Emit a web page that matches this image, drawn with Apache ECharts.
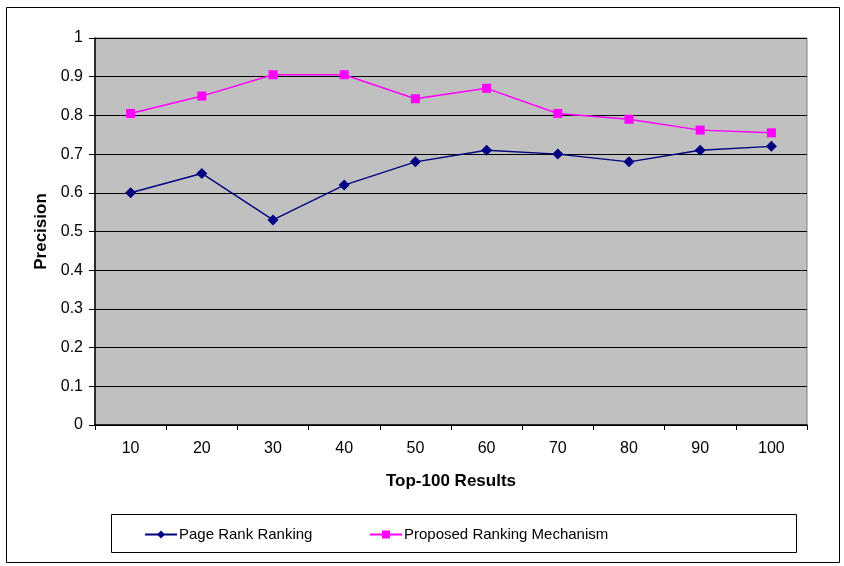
<!DOCTYPE html>
<html>
<head>
<meta charset="utf-8">
<script src="https://cdn.jsdelivr.net/npm/echarts@6/dist/echarts.min.js"></script>
<style>
html,body{margin:0;padding:0;background:#fff;}
#chart{width:844px;height:566px;}
</style>
</head>
<body>
<div id="chart"></div>
<script>
var categories = ['10','20','30','40','50','60','70','80','90','100'];
var pageRank = [0.60, 0.65, 0.53, 0.62, 0.68, 0.71, 0.70, 0.68, 0.71, 0.72];
var proposed = [0.805, 0.85, 0.905, 0.905, 0.843, 0.87, 0.805, 0.79, 0.762, 0.755];
var seriesNames = ['Page Rank Ranking', 'Proposed Ranking Mechanism'];

var chart = echarts.init(document.getElementById('chart'));
var font = 'Liberation Sans, Arial, sans-serif';
chart.setOption({
  animation: false,
  backgroundColor: '#fff',
  textStyle: {fontFamily: font},
  grid: {left: 95, top: 38, width: 712, height: 387, show: true,
         backgroundColor: '#c0c0c0', borderColor: '#808080', borderWidth: 1},
  graphic: [
    {type: 'rect', shape: {x: 6.5, y: 7.5, width: 833, height: 555}, style: {fill: 'none', stroke: '#000', lineWidth: 1}, z: -10},
    {type: 'rect', shape: {x: 111.5, y: 514.5, width: 685, height: 38}, style: {fill: '#fff', stroke: '#000', lineWidth: 1}, z: -5}
  ],
  legend: [
    {data: [seriesNames[0]], left: 144, top: 527, padding: 0, itemWidth: 32, itemHeight: 10, itemGap: 0,
     textStyle: {fontSize: 15, color: '#000', fontFamily: font, padding: [0,0,0,-3]}},
    {data: [seriesNames[1]], left: 369, top: 527, padding: 0, itemWidth: 32, itemHeight: 10, itemGap: 0,
     textStyle: {fontSize: 15, color: '#000', fontFamily: font, padding: [0,0,0,-3]}}
  ],
  xAxis: {
    type: 'category', data: categories, boundaryGap: true,
    name: 'Top-100 Results', nameLocation: 'middle', nameGap: 48,
    nameTextStyle: {fontWeight: 'bold', fontSize: 17, color: '#000', fontFamily: font},
    axisLine: {lineStyle: {color: '#000', width: 1.5}},
    axisTick: {show: true, length: 5, lineStyle: {color: '#000'}},
    axisLabel: {fontSize: 16, color: '#000', margin: 16, fontFamily: font},
    splitLine: {show: false}
  },
  yAxis: {
    type: 'value', min: 0, max: 1, interval: 0.1,
    name: 'Precision', nameLocation: 'middle', nameGap: 45, nameRotate: 90,
    nameTextStyle: {fontWeight: 'bold', fontSize: 17, color: '#000', fontFamily: font},
    axisLine: {show: true, lineStyle: {color: '#000', width: 1.5}},
    axisTick: {show: true, length: 6, lineStyle: {color: '#000'}},
    axisLabel: {fontSize: 16, color: '#000', margin: 12, fontFamily: font},
    splitLine: {show: true, lineStyle: {color: '#000', width: 1}}
  },
  series: [
    {name: seriesNames[0], type: 'line', data: pageRank, symbol: 'diamond', symbolSize: 11,
     lineStyle: {color: '#000080', width: 1.4}, itemStyle: {color: '#000080'}},
    {name: seriesNames[1], type: 'line', data: proposed, symbol: 'rect', symbolSize: 9,
     lineStyle: {color: '#ff00ff', width: 1.4}, itemStyle: {color: '#ff00ff'}}
  ]
});
</script>
</body>
</html>
